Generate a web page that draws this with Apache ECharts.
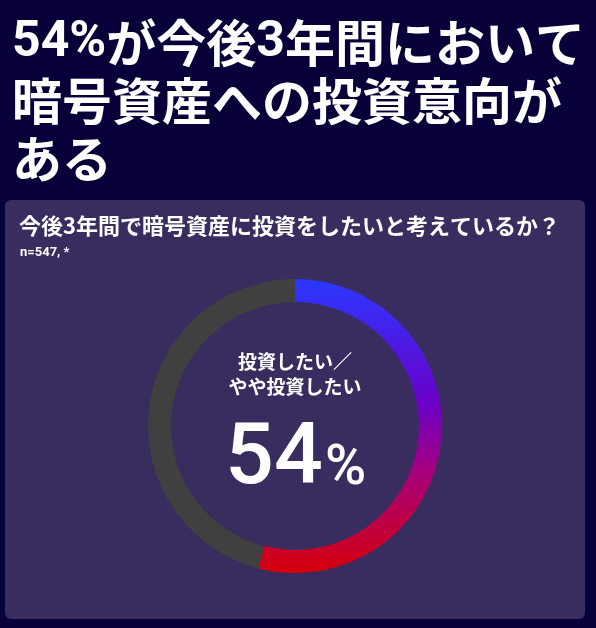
<!DOCTYPE html>
<html><head><meta charset="utf-8">
<script src="https://cdn.jsdelivr.net/npm/echarts@6/dist/echarts.min.js"></script>
<style>html,body{margin:0;padding:0;background:#080039;}#c{width:596px;height:628px;}</style>
</head><body><div id="c"></div>
<script>
const headline = '{d|54%}が今後{d|3}年間において\n暗号資産への投資意向が\nある';
const question = '今後3年間で暗号資産に投資をしたいと考えているか？';
const note = 'n=547, *';
const categories = ['投資したい／やや投資したい', 'その他'];
const values = [54, 46];
const centerLabel = '投資したい／\nやや投資したい';
const unit = '%';

const chart = echarts.init(document.getElementById('c'));
const grad = new echarts.graphic.LinearGradient(0, 0, 0, 1, [
  {offset: 0, color: '#2a38ff'},
  {offset: 0.42, color: '#6a00c8'},
  {offset: 0.65, color: '#a6007e'},
  {offset: 1, color: '#d6000c'}
]);
chart.setOption({
  backgroundColor: '#080039',
  animation: false,
  graphic: [
    {type: 'rect', shape: {x: 5, y: 200, width: 580, height: 419, r: 6}, style: {fill: '#392d5f'}, z: 0},
    {type: 'text', left: 12, top: 14, style: {
      text: headline, fill: '#ffffff', font: 'bold 50px "Noto Sans CJK JP"', lineHeight: 58,
      rich: {d: {fontFamily: 'Roboto', fontWeight: 'bold', fontSize: 50, fill: '#ffffff', lineHeight: 58}}
    }},
    {type: 'text', left: 19, top: 215, style: {text: question, fill: '#ffffff', font: 'bold 22px "Noto Sans CJK JP"'}},
    {type: 'text', left: 20, top: 246, style: {text: note, fill: '#ffffff', font: 'bold 13px Roboto'}},
    {type: 'text', x: 295, y: 349, style: {text: centerLabel, fill: '#ffffff', font: 'bold 19px "Noto Sans CJK JP"', lineHeight: 25, align: 'center', verticalAlign: 'top'}},
    {type: 'text', x: 225, y: 461, style: {text: String(values[0]), fill: '#ffffff', font: '500 86px Roboto', align: 'left', verticalAlign: 'middle'}},
    {type: 'text', x: 325, y: 470, style: {text: unit, fill: '#ffffff', font: '500 56px Roboto', align: 'left', verticalAlign: 'middle'}}
  ],
  series: [{
    type: 'pie',
    center: [295, 426],
    radius: [124, 147],
    startAngle: 90,
    clockwise: true,
    silent: true,
    label: {show: false},
    labelLine: {show: false},
    data: [
      {name: categories[0], value: values[0], itemStyle: {color: grad}},
      {name: categories[1], value: values[1], itemStyle: {color: '#404040'}}
    ]
  }]
});
</script></body></html>
